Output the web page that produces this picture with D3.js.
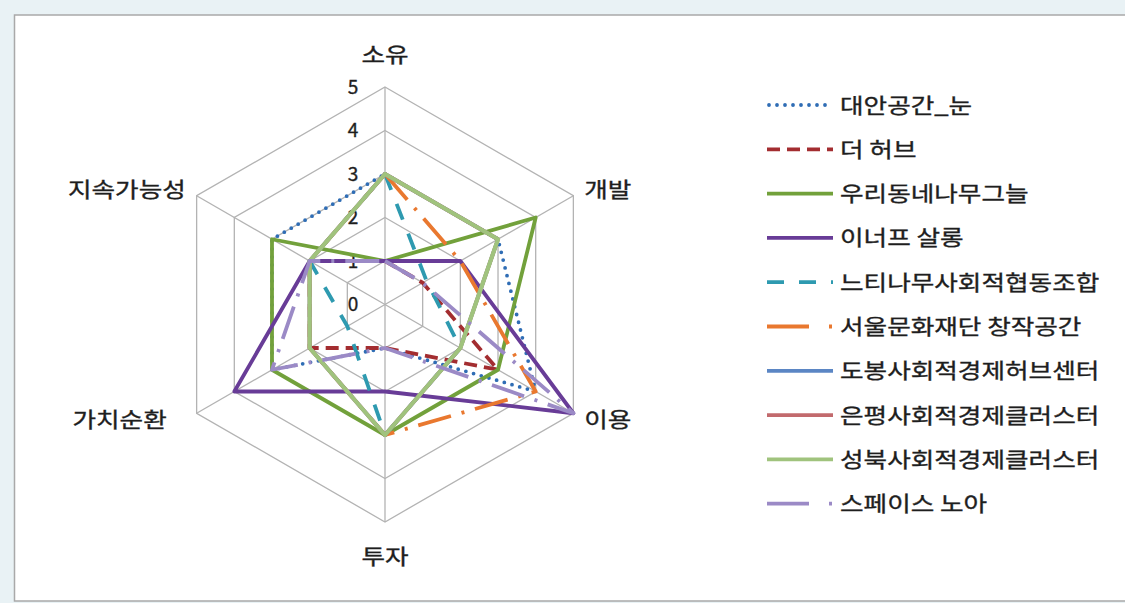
<!DOCTYPE html>
<html>
<head>
<meta charset="utf-8">
<script src="https://cdn.jsdelivr.net/npm/d3@7"></script>
<style>
body { margin: 0; background: #e9f2f5; }
svg text { font-family: "Noto Sans CJK KR", "Noto Sans", sans-serif; fill: #1e1e1e; stroke: #1e1e1e; stroke-width: 0.35px; }
</style>
</head>
<body>
<div id="chart"></div>
<script>
// axes, clockwise from the top
var axes = ["소유", "개발", "이용", "투자", "가치순환", "지속가능성"];
var ticks = [0, 1, 2, 3, 4, 5];

var seriesNames = ["대안공간_눈", "더 허브", "우리동네나무그늘", "이너프 살롱", "느티나무사회적협동조합",
	"서울문화재단 창작공간", "도봉사회적경제허브센터", "은평사회적경제클러스터", "성북사회적경제클러스터", "스페이스 노아"];

var daean   = [3, 3, 4, 1, 3, 3];
var thehub  = [1, 1, 3, 1, 2, 2];
var woori   = [1, 4, 3, 3, 3, 3];
var enough  = [1, 2, 5, 2, 4, 2];
var neuti   = [3, 1.1, 2, 3, 1, 2];
var seoul   = [3, 2, 4, 3, 2, 2];
var dobong  = [3, 3, 2, 3, 2, 2];
var eunpyeong = [3, 3, 2, 3, 2, 2];
var seongbuk = [3, 3, 2, 3, 2, 2];
var space   = [1, 1, 5, 1, 3, 2];

var seriesValues = [daean, thehub, woori, enough, neuti, seoul, dobong, eunpyeong, seongbuk, space];

var colors = ["#2f6db5", "#a32d30", "#72a13b", "#683c97", "#2e9ab0", "#e9782f", "#5b86c4", "#c26a6d", "#a0c37d", "#9b8ac6"];
var dashes = ["0 8", "13 7", null, null, "17 15", "34 11 3 11", null, null, null, "34 11 3 11"];
var caps   = ["round", "butt", "butt", "butt", "butt", "butt", "butt", "butt", "butt", "butt"];

var width = 1125, height = 603;
var cx = 385, cy = 304.5;
var textStretch = 1.22;

var svg = d3.select("#chart").append("svg")
	.attr("width", width)
	.attr("height", height);

// white panel
svg.append("rect")
	.attr("x", 14.5).attr("y", 15)
	.attr("width", width).attr("height", 586)
	.attr("fill", "#ffffff")
	.attr("stroke", "#a9a9a9")
	.attr("stroke-width", 1.5);

var r = d3.scaleLinear().domain([0, 5]).range([0, 217.5]);
var angle = d3.scaleLinear().domain([0, axes.length]).range([0, 2 * Math.PI]);

function px(i, v) { return cx + r(v) * Math.sin(angle(i)); }
function py(i, v) { return cy - r(v) * Math.cos(angle(i)); }

// widen text a little, the original font runs wider
function stretch(sel) {
	sel.each(function() {
		var w = this.getComputedTextLength();
		d3.select(this)
			.attr("textLength", w * textStretch)
			.attr("lengthAdjust", "spacingAndGlyphs");
	});
}

var g = svg.append("g");

// grid rings
ticks.slice(1).forEach(function(t) {
	g.append("path")
		.attr("d", d3.line()(axes.map(function(a, i) { return [px(i, t), py(i, t)]; })) + "Z")
		.attr("fill", "none")
		.attr("stroke", "#b3b3b3")
		.attr("stroke-width", 1.3);
});

// spokes
g.selectAll(".spoke")
	.data(axes)
  .enter().append("line")
	.attr("class", "spoke")
	.attr("x1", cx).attr("y1", cy)
	.attr("x2", function(d, i) { return px(i, 5); })
	.attr("y2", function(d, i) { return py(i, 5); })
	.attr("stroke", "#b3b3b3")
	.attr("stroke-width", 1.3);

// tick labels
g.selectAll(".tick")
	.data(ticks)
  .enter().append("text")
	.attr("class", "tick")
	.attr("x", cx - 32)
	.attr("y", function(d) { return cy - r(d); })
	.attr("dy", "0.36em")
	.attr("text-anchor", "middle")
	.style("font-size", "19px")
	.text(function(d) { return d; });

// axis labels
var labelX = function(d, i) {
	if (i == 0 || i == 3) return cx;
	if (i == 4) return cx + 252 * Math.sin(angle(i));
	return cx + 230 * Math.sin(angle(i));
};
g.selectAll(".axislabel")
	.data(axes)
  .enter().append("text")
	.attr("class", "axislabel")
	.attr("x", labelX)
	.attr("y", function(d, i) {
		if (i == 0) return cy - 250;
		if (i == 3) return cy + 252;
		return cy - 230 * Math.cos(angle(i));
	})
	.attr("dy", "0.36em")
	.attr("text-anchor", function(d, i) {
		if (i == 0 || i == 3) return "middle";
		return i < 3 ? "start" : "end";
	})
	.style("font-size", "21px")
	.text(function(d) { return d; })
	.call(stretch);

// series, first one at the bottom
var radarLine = d3.line()
	.x(function(d) { return px(d.i, d.v); })
	.y(function(d) { return py(d.i, d.v); });

seriesValues.forEach(function(vals, s) {
	var pts = vals.map(function(v, i) { return {i: i, v: v}; });
	g.append("path")
		.attr("d", radarLine(pts) + "Z")
		.attr("fill", "none")
		.attr("stroke", colors[s])
		.attr("stroke-width", s == 8 ? 4.2 : 3.8)
		.attr("stroke-dasharray", dashes[s])
		.attr("stroke-linecap", caps[s])
		.attr("stroke-linejoin", "round");
});

// legend
var legend = svg.append("g")
	.attr("transform", "translate(767,105)");

var item = legend.selectAll(".item")
	.data(seriesNames)
  .enter().append("g")
	.attr("class", "item")
	.attr("transform", function(d, i) { return "translate(0," + (i * 44.3) + ")"; });

item.append("line")
	.attr("x1", function(d, i) { return caps[i] == "round" ? 2 : 0; })
	.attr("x2", 66)
	.attr("stroke", function(d, i) { return colors[i]; })
	.attr("stroke-width", 3.8)
	.attr("stroke-dasharray", function(d, i) { return dashes[i] == "34 11 3 11" ? "42 20 3 11" : dashes[i]; })
	.attr("stroke-linecap", function(d, i) { return caps[i]; });

item.append("text")
	.attr("x", 73)
	.attr("dy", "0.36em")
	.style("font-size", "21px")
	.text(function(d) { return d; })
	.call(stretch);
</script>
</body>
</html>
